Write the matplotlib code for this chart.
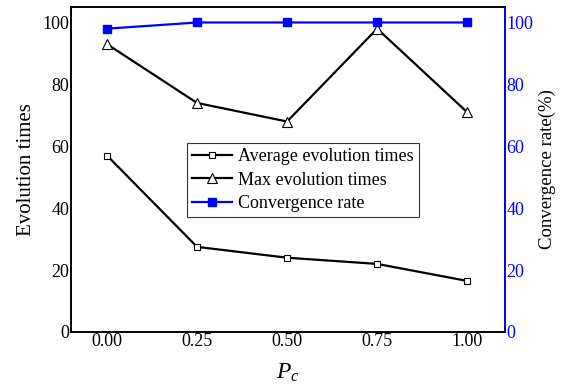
import matplotlib.pyplot as plt

plt.rcParams['font.family'] = ['Liberation Serif', 'DejaVu Serif']
plt.rcParams['mathtext.fontset'] = 'custom'
plt.rcParams['mathtext.it'] = 'Liberation Serif:italic'
plt.rcParams['mathtext.rm'] = 'Liberation Serif'

# data
pc = [0.00, 0.25, 0.50, 0.75, 1.00]
avg_times = [57, 27.5, 24, 22, 16.5]
max_times = [93, 74, 68, 98, 71]
conv_rate = [98, 100, 100, 100, 100]
tick_labels = ['0.00', '0.25', '0.50', '0.75', '1.00']

fig = plt.figure(figsize=(5.64, 3.85), dpi=100)
ax = fig.add_axes([71/564, 1 - 332/385, (505-71)/564, (332-7)/385])
ax2 = ax.twinx()

l1, = ax.plot(pc, avg_times, color='black', lw=1.6, marker='s', ms=5,
              mfc='white', mec='black', mew=0.8, label='Average evolution times')
l2, = ax.plot(pc, max_times, color='black', lw=1.6, marker='^', ms=7,
              mfc='white', mec='black', mew=0.8, label='Max evolution times')
l3, = ax2.plot(pc, conv_rate, color='blue', lw=1.6, marker='s', ms=5.5,
               mfc='blue', mec='blue', label='Convergence rate')

ax.set_xlim(-0.1, 1.105)
ax.set_ylim(0, 105)
ax2.set_ylim(0, 105)
ax.set_xticks(pc)
ax.set_xticklabels(tick_labels)
ax.set_yticks([0, 20, 40, 60, 80, 100])
ax2.set_yticks([0, 20, 40, 60, 80, 100])

ax.tick_params(axis='both', length=0, labelsize=13, pad=1)
ax2.tick_params(axis='y', length=0, labelsize=13, pad=1, colors='blue')
for a in (ax, ax2):
    for s in a.spines.values():
        s.set_linewidth(1.2)
ax2.spines['right'].set_color('blue')

ax.set_ylabel('Evolution times', fontsize=15, labelpad=5)
ax2.set_ylabel('Convergence rate(%)', fontsize=13.5, labelpad=4)
ax.set_xlabel('$P_c$', fontsize=17, labelpad=8)

leg = ax.legend(handles=[l1, l2, l3], loc='upper left',
                bbox_to_anchor=((187-71)/434, (332-143)/325),
                fontsize=13, frameon=True, fancybox=False, edgecolor='black',
                borderpad=0.3, labelspacing=0.35, handlelength=2.2,
                handletextpad=0.3, borderaxespad=0)
leg.get_frame().set_linewidth(0.8)

fig.savefig('out.png', dpi=100)
